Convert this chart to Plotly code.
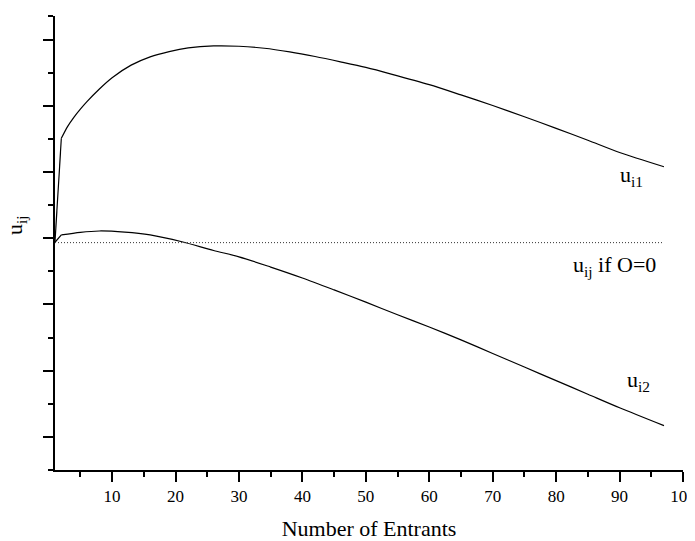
import plotly.graph_objects as go

# Number of entrants
x_u1 = [1, 2, 3, 4, 5, 6, 8, 10, 13, 16, 19, 22, 26, 30, 34, 38, 42, 46, 50,
        54, 60, 65, 70, 75, 80, 85, 90, 97]
u_i1 = [-0.05, 1.51, 1.69, 1.83, 1.95, 2.06, 2.255, 2.425, 2.615, 2.74, 2.82, 2.875,
        2.905, 2.90, 2.87, 2.815, 2.745, 2.665, 2.58, 2.48, 2.32, 2.165, 2.005,
        1.835, 1.66, 1.48, 1.295, 1.08]

x_u2 = [1, 2, 5, 8, 12, 16, 21, 26, 30, 35, 40, 45, 50, 55, 60, 65, 70, 75, 80,
        85, 90, 97]
u_i2 = [-0.06, 0.05, 0.09, 0.11, 0.093, 0.05, -0.053, -0.185, -0.28, -0.435, -0.60,
        -0.78, -0.965, -1.155, -1.34, -1.535, -1.74, -1.945, -2.15, -2.355, -2.56, -2.83]

x_base = [1, 97]
u_base = [-0.066, -0.066]

x_ticks = [10, 20, 30, 40, 50, 60, 70, 80, 90, 100]
x_minor = [5, 15, 25, 35, 45, 55, 65, 75, 85, 95]
y_ticks = [-3, -2, -1, 0, 1, 2, 3]
y_minor = [-3.5, -2.5, -1.5, -0.5, 0.5, 1.5, 2.5, 3.357]

FONT = "Liberation Serif, Times New Roman, DejaVu Serif, serif"

fig = go.Figure()


def add_curve(xs, ys):
    # first step (N=1 -> N=2) is a straight jump, the rest is a smooth curve
    fig.add_trace(go.Scatter(x=xs[:2], y=ys[:2], mode="lines",
                             line=dict(color="black", width=1.2), showlegend=False))
    fig.add_trace(go.Scatter(x=xs[1:], y=ys[1:], mode="lines",
                             line=dict(color="black", width=1.2, shape="spline",
                                       smoothing=0.8),
                             showlegend=False))


add_curve(x_u1, u_i1)
add_curve(x_u2, u_i2)
fig.add_trace(go.Scatter(x=x_base, y=u_base, mode="lines",
                         line=dict(color="#333333", width=1, dash="1px,2px"),
                         showlegend=False))

fig.update_layout(
    width=687, height=533,
    margin=dict(l=47, r=12, t=8, b=71, autoexpand=False),
    paper_bgcolor="white", plot_bgcolor="white",
    font=dict(family=FONT, color="black", size=16),
    xaxis=dict(range=[1, 100], tickmode="array", tickvals=x_ticks,
               ticks="outside", ticklen=10, tickwidth=1.5, tickcolor="black",
               showline=True, linecolor="black", linewidth=2,
               showgrid=False, zeroline=False, ticklabeloverflow="allow",
               tickfont=dict(family=FONT, size=17, color="black"),
               minor=dict(tickmode="array", tickvals=x_minor, ticks="outside",
                          ticklen=5, tickwidth=1.5, tickcolor="black", showgrid=False),
               title=dict(text="Number of Entrants", font=dict(family=FONT, size=22),
                          standoff=17)),
    yaxis=dict(range=[-3.5, 3.357], tickmode="array", tickvals=y_ticks,
               showticklabels=False,
               ticks="outside", ticklen=10, tickwidth=1.5, tickcolor="black",
               showline=True, linecolor="black", linewidth=2,
               showgrid=False, zeroline=False,
               minor=dict(tickmode="array", tickvals=y_minor, ticks="outside",
                          ticklen=5, tickwidth=1.5, tickcolor="black", showgrid=False)),
)

ann_font = dict(family=FONT, size=22, color="black")
fig.add_annotation(x=89.8, y=0.94, xref="x", yref="y", text="u<sub>i1</sub>",
                   showarrow=False, xanchor="left", yanchor="middle", font=ann_font)
fig.add_annotation(x=90.8, y=-2.15, xref="x", yref="y", text="u<sub>i2</sub>",
                   showarrow=False, xanchor="left", yanchor="middle", font=ann_font)
fig.add_annotation(x=82.3, y=-0.42, xref="x", yref="y", text="u<sub>ij</sub> if O=0",
                   showarrow=False, xanchor="left", yanchor="middle", font=ann_font)
fig.add_annotation(x=-0.062, y=0.54, xref="paper", yref="paper", text="u<sub>ij</sub>",
                   showarrow=False, textangle=-90, xanchor="center", yanchor="middle",
                   font=ann_font)

fig.write_html("out.html")
